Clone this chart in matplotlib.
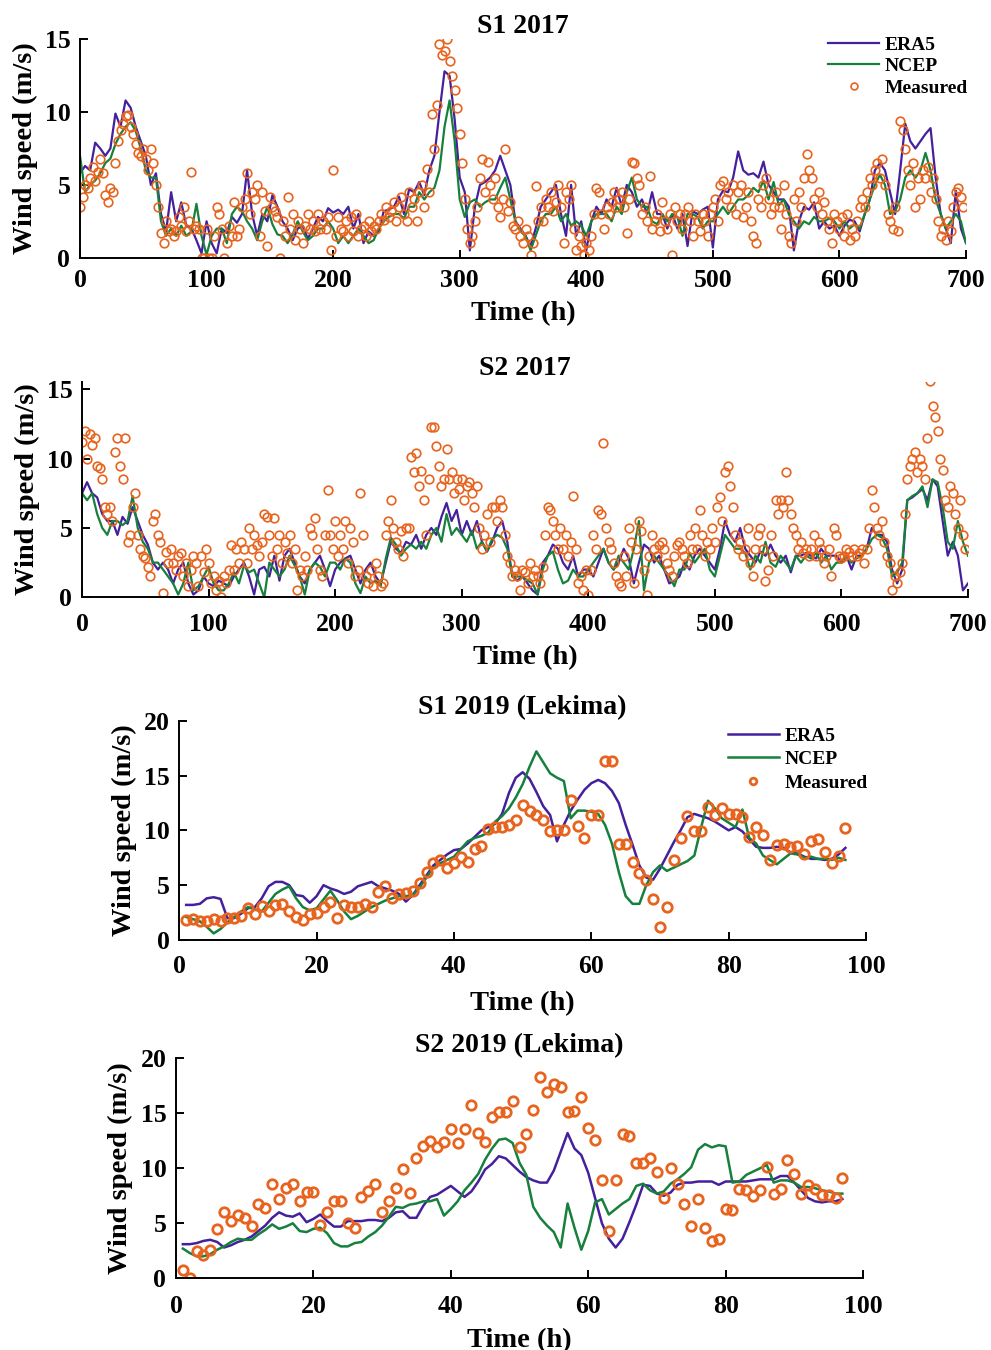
import numpy as np
import matplotlib.pyplot as plt

# fonts: Times-like bold everywhere
plt.rcParams['font.family'] = ['Liberation Serif', 'DejaVu Serif']
plt.rcParams['font.weight'] = 'bold'
plt.rcParams['axes.labelweight'] = 'bold'
plt.rcParams['axes.titleweight'] = 'bold'

# ---------------- data ----------------
# S1 2017, reanalysis every 4 h (0..700), measured every 2 h (0..698)
s1_2017_era5 = [5.8, 6.3, 6.0, 7.9, 7.5, 7.0, 7.5, 9.9, 9.0, 10.8, 10.3, 9.0, 8.0,
                7.0, 5.0, 5.8, 3.0, 1.8, 4.5, 2.5, 3.8, 2.2, 2.0, 1.2, 0.3, 2.5,
                1.0, 0.3, 2.0, 1.7, 2.8, 2.4, 3.0, 6.0, 3.0, 1.5, 3.0, 2.5,
                4.3, 3.5, 2.5, 2.0, 1.2, 2.0, 2.2, 1.3, 2.0, 2.8, 2.5, 3.4, 3.1,
                3.3, 3.0, 3.5, 2.0, 3.0, 1.0, 1.8, 1.5, 1.8, 3.2, 3.3, 3.5,
                4.2, 3.0, 4.7, 4.5, 5.2, 4.3, 6.0, 7.0, 10.0, 12.8, 12.5, 9.5, 5.5,
                4.5, 0.5, 3.5, 5.0, 5.2, 5.5, 6.0, 7.0, 6.0, 5.0, 2.5, 2.0,
                1.5, 0.8, 2.0, 3.5, 4.0, 4.5, 5.0, 3.0, 1.5, 5.0, 1.5, 2.5, 0.5,
                2.5, 3.5, 3.0, 4.0, 3.5, 4.8, 3.5, 5.0, 4.5, 3.5, 4.0, 3.0,
                4.5, 3.0, 3.0, 2.0, 3.0, 2.0, 3.0, 0.8, 3.2, 3.0, 3.3, 3.5, 0.7,
                4.0, 4.6, 4.5, 5.5, 7.3, 6.0, 5.7, 5.8, 5.5, 6.6, 5.0, 4.5,
                4.0, 4.0, 3.5, 0.5, 2.5, 3.5, 3.3, 3.8, 2.0, 2.5, 2.0, 2.2, 1.5,
                2.2, 2.6, 2.5, 1.8, 3.0, 4.0, 6.0, 6.5, 6.0, 4.5, 3.0, 6.0,
                9.2, 8.0, 7.5, 8.0, 8.5, 8.9, 5.5, 3.0, 2.0, 1.0, 4.6, 2.0, 1.0]
s1_2017_ncep = [7.0, 4.5, 5.0, 5.3, 5.8, 6.5, 6.8, 7.8, 8.5, 9.0, 9.3, 8.7, 7.5,
                6.0, 5.5, 5.5, 2.5, 1.5, 2.0, 1.5, 2.2, 1.5, 1.8, 3.7, 1.5, 0.2,
                1.5, 2.0, 2.0, 1.0, 3.0, 3.5, 3.2, 2.5, 2.0, 1.2, 2.5, 3.5,
                2.3, 1.6, 1.5, 1.0, 1.6, 2.5, 1.8, 1.2, 1.5, 2.0, 2.0, 2.5, 2.0,
                1.0, 1.5, 1.0, 1.5, 2.0, 1.5, 1.0, 1.2, 2.0, 2.5, 2.8, 3.0,
                3.0, 2.7, 3.5, 3.5, 4.5, 4.0, 4.5, 4.8, 6.0, 9.0, 10.8, 8.0, 4.0,
                2.8, 3.8, 4.0, 3.5, 3.8, 4.0, 4.0, 4.8, 5.5, 4.0, 2.5, 1.8,
                1.5, 0.5, 1.5, 2.5, 3.0, 3.0, 3.5, 2.5, 3.0, 2.2, 2.5, 2.2, 1.5,
                2.5, 3.0, 3.0, 3.0, 2.5, 3.5, 3.0, 4.5, 5.5, 4.0, 3.5, 3.5,
                2.5, 2.3, 3.0, 2.5, 3.0, 2.8, 1.5, 3.0, 3.0, 2.8, 2.0, 2.5, 2.5,
                3.0, 3.5, 3.0, 3.5, 4.0, 4.0, 4.3, 4.8, 4.5, 5.3, 4.0, 5.2,
                3.6, 4.0, 3.0, 2.5, 2.0, 2.5, 2.3, 2.8, 2.5, 2.5, 2.7, 2.5, 2.0,
                2.5, 2.0, 2.3, 2.0, 3.0, 4.0, 5.0, 5.7, 5.0, 3.0, 3.2, 4.0,
                5.5, 6.0, 5.5, 6.0, 7.2, 6.0, 4.0, 3.0, 2.0, 2.5, 3.0, 2.5, 1.0]
s1_2017_meas = [3.5, 4.2, 5.0, 4.8, 5.5, 6.2, 5.3, 5.9, 6.8, 5.8, 4.3, 3.8, 4.8,
                4.5, 6.5, 8.0, 8.8, 9.2, 9.7, 9.8, 9.0, 8.5, 7.8, 7.2, 7.0,
                7.5, 6.8, 6.0, 7.5, 6.5, 5.0, 3.5, 1.7, 1.0, 2.5, 1.8, 2.0, 1.5,
                1.8, 2.8, 2.2, 3.5, 1.8, 2.5, 5.9, 2.0, 2.2, 2.0, 0.0, 0.0,
                2.0, 0.0, 0.0, 1.5, 3.5, 3.0, 2.0, 0.0, 1.0, 2.2, 1.5, 3.8, 1.5,
                2.0, 3.5, 4.0, 5.8, 3.0, 4.5, 4.0, 5.0, 1.5, 4.5, 3.2, 0.8,
                4.2, 3.5, 3.2, 2.8, 0.0, 2.5, 1.5, 4.2, 2.0, 3.0, 1.2, 2.5, 2.0,
                1.0, 2.2, 3.0, 2.0, 2.5, 1.8, 3.0, 2.0, 2.5, 2.0, 2.8, 0.5,
                6.0, 1.5, 2.8, 2.0, 1.8, 2.5, 1.5, 2.8, 1.8, 3.0, 1.5, 2.0, 2.2,
                1.5, 2.5, 1.8, 2.2, 2.0, 2.5, 3.0, 2.6, 3.5, 2.8, 3.2, 3.8,
                2.5, 3.5, 4.2, 3.0, 2.5, 4.5, 3.5, 4.0, 2.5, 4.5, 5.0, 3.5, 6.1,
                4.5, 9.9, 7.5, 10.5, 14.7, 13.9, 14.2, 15.0, 13.5, 12.5, 11.5, 10.3,
                8.5, 6.5, 4.0, 2.0, 1.0, 1.5, 2.5, 3.5, 5.5, 6.8, 4.5, 6.6, 5.0,
                4.0, 5.5, 3.5, 2.8, 4.0, 7.5, 3.2, 3.8, 2.2, 2.0, 2.5, 1.5,
                1.0, 2.0, 1.5, 0.2, 1.0, 4.9, 2.5, 3.5, 2.5, 4.0, 3.5, 4.5, 3.2,
                3.8, 5.0, 3.5, 1.0, 4.5, 4.0, 5.0, 2.0, 0.5, 1.5, 0.8, 0.2,
                1.0, 0.5, 1.5, 3.0, 4.8, 4.5, 3.0, 2.0, 3.5, 3.0, 3.8, 4.5, 3.5,
                4.0, 4.5, 3.5, 1.7, 4.0, 6.6, 6.5, 5.5, 5.0, 3.0, 3.5, 2.5,
                5.6, 2.0, 2.5, 3.0, 1.8, 3.8, 2.5, 2.0, 3.0, 0.2, 3.5, 2.5, 3.0,
                2.0, 3.0, 3.5, 2.5, 1.5, 3.0, 2.5, 1.8, 3.0, 2.5, 1.5, 3.0,
                3.5, 4.0, 2.5, 5.0, 5.3, 4.0, 4.5, 3.5, 5.0, 3.0, 4.5, 5.0, 2.8,
                3.5, 4.5, 2.5, 1.5, 1.0, 4.0, 3.5, 5.0, 5.5, 4.0, 3.0, 3.5,
                4.5, 3.5, 2.0, 5.0, 3.0, 1.5, 1.0, 4.0, 2.5, 4.5, 3.5, 5.5, 7.1,
                6.0, 5.5, 4.0, 3.5, 4.5, 3.0, 3.8, 2.5, 2.0, 1.0, 3.0, 2.5,
                2.0, 2.8, 1.5, 3.0, 1.2, 2.0, 1.5, 2.5, 3.5, 4.0, 3.5, 4.5, 5.5,
                5.0, 6.0, 6.5, 5.5, 6.8, 5.0, 3.0, 2.5, 2.0, 3.5, 1.8, 9.4,
                8.8, 7.5, 6.0, 5.0, 6.5, 3.5, 5.5, 4.0, 6.0, 5.5, 6.2, 4.5, 5.5,
                4.0, 2.5, 1.5, 2.0, 1.2, 2.5, 1.8, 3.5, 4.5, 4.8, 4.2, 3.5]

# S2 2017
s2_2017_era5 = [7.5, 8.3, 7.5, 7.2, 6.0, 5.5, 5.5, 4.5, 5.8, 5.3, 6.5, 5.5, 4.5,
                3.8, 2.5, 2.0, 2.5, 2.0, 1.0, 2.0, 2.5, 1.0, 0.2, 0.5, 1.5, 1.0,
                0.8, 1.2, 1.0, 0.8, 1.5, 2.0, 2.5, 1.5, 0.2, 2.0, 2.2, 1.5,
                3.0, 1.2, 3.0, 3.5, 2.5, 1.5, 1.0, 2.0, 2.5, 3.0, 2.0, 0.8, 2.0,
                2.5, 2.8, 3.0, 2.0, 1.0, 2.0, 2.5, 1.5, 1.0, 2.5, 4.0, 3.5,
                3.2, 4.0, 3.8, 4.5, 3.5, 4.5, 5.0, 4.5, 5.8, 6.8, 5.5, 6.3, 4.5,
                5.5, 4.5, 5.5, 4.0, 3.3, 4.0, 5.0, 5.5, 4.0, 1.5, 1.2, 1.5,
                1.0, 0.5, 0.2, 2.5, 3.0, 3.8, 3.5, 2.5, 2.0, 3.0, 1.5, 2.0, 2.0,
                1.5, 2.5, 3.5, 2.5, 2.0, 2.5, 3.5, 2.8, 1.0, 2.5, 3.8, 3.5,
                2.5, 3.0, 2.0, 1.0, 1.2, 1.5, 2.5, 2.0, 3.0, 3.5, 3.0, 2.5, 2.0,
                3.5, 5.5, 4.5, 4.0, 5.0, 3.5, 3.0, 2.5, 3.3, 3.0, 3.8, 3.0,
                2.5, 3.0, 1.8, 3.0, 3.0, 3.2, 3.0, 2.8, 3.5, 3.0, 3.0, 3.0, 2.5,
                3.0, 2.0, 3.0, 3.0, 3.5, 5.0, 4.5, 4.5, 4.0, 2.0, 1.0, 2.0,
                7.0, 7.2, 7.5, 7.8, 7.0, 8.5, 8.0, 5.5, 3.0, 4.0, 3.0, 0.5, 1.0]
s2_2017_ncep = [7.5, 7.0, 7.5, 6.0, 5.0, 4.5, 5.5, 5.5, 5.2, 5.5, 7.3, 5.0, 4.0,
                3.5, 2.5, 2.5, 2.0, 1.5, 1.0, 0.2, 1.0, 2.5, 0.5, 0.8, 1.5, 2.2,
                1.0, 0.5, 0.5, 1.0, 1.8, 1.0, 2.3, 1.8, 2.0, 1.0, 0.0, 2.5,
                2.0, 1.5, 2.0, 3.0, 2.3, 1.5, 0.2, 2.0, 2.5, 2.2, 1.5, 2.5, 2.5,
                2.0, 2.8, 2.5, 1.0, 0.3, 1.5, 1.0, 1.2, 0.8, 2.8, 4.3, 3.8,
                3.0, 3.5, 3.8, 3.5, 4.0, 3.5, 4.5, 5.0, 4.0, 6.0, 4.5, 5.0, 4.5,
                4.0, 4.8, 3.5, 4.0, 3.3, 4.2, 4.5, 4.3, 3.5, 1.5, 1.5, 1.5,
                1.2, 1.0, 0.2, 2.0, 3.0, 3.3, 2.0, 1.0, 1.2, 2.0, 1.5, 1.5, 2.0,
                2.5, 3.0, 3.5, 2.5, 2.0, 3.0, 2.5, 2.0, 3.5, 5.5, 0.5, 2.5,
                3.0, 2.5, 2.0, 1.5, 0.8, 2.0, 2.0, 3.2, 2.5, 3.0, 3.5, 2.0, 1.5,
                3.0, 4.5, 4.0, 3.5, 3.5, 3.2, 2.0, 3.0, 2.5, 4.0, 2.5, 2.2,
                3.0, 2.5, 2.0, 3.0, 2.5, 3.0, 2.8, 3.2, 2.5, 3.0, 2.0, 2.5, 2.5,
                3.0, 2.5, 2.8, 3.0, 3.5, 4.2, 4.5, 4.3, 3.5, 1.5, 1.8, 2.5,
                7.0, 7.3, 7.5, 8.0, 6.5, 8.5, 8.3, 6.5, 4.0, 3.5, 5.5, 4.0, 3.0]
s2_2017_meas = [11.2, 12.0, 10.0, 11.8, 11.0, 11.5, 9.5, 9.3, 8.5, 6.5, 6.0, 6.5, 5.5,
                10.5, 11.5, 9.5, 8.5, 11.5, 4.0, 4.5, 6.5, 7.5, 4.5, 3.5, 3.0,
                2.8, 2.2, 1.5, 5.5, 6.0, 4.5, 4.0, 0.3, 3.3, 2.5, 3.5, 2.5, 2.0,
                3.0, 3.2, 1.5, 2.5, 0.8, 2.0, 3.0, 2.5, 0.8, 3.0, 1.8, 3.5,
                2.5, 1.0, 1.5, 0.5, 1.2, 0.0, 1.5, 1.0, 2.0, 3.8, 2.0, 3.5, 2.5,
                4.0, 3.5, 2.5, 5.0, 3.5, 4.5, 3.8, 3.0, 4.0, 6.0, 5.8, 4.5,
                3.0, 5.7, 3.5, 4.5, 2.5, 4.0, 3.2, 4.5, 2.5, 3.5, 0.5, 2.0, 1.5,
                3.0, 2.0, 5.0, 4.5, 5.7, 3.5, 2.0, 1.5, 4.5, 7.7, 4.5, 3.5,
                5.5, 3.0, 4.5, 3.5, 5.5, 2.5, 5.0, 4.0, 1.5, 2.0, 7.5, 4.5, 1.5,
                1.0, 2.0, 0.8, 2.5, 1.5, 0.8, 1.0, 4.5, 5.5, 7.0, 5.0, 4.0,
                3.5, 4.8, 3.0, 5.0, 5.0, 10.1, 9.0, 10.4, 8.0, 9.1, 7.0, 4.5, 8.5,
                12.3, 12.3, 10.9, 9.5, 8.0, 8.5, 10.7, 8.5, 9.0, 7.5, 8.5, 7.8,
                8.5, 7.0, 8.0, 8.3, 7.5, 6.5, 8.0, 5.0, 3.5, 4.5, 6.0, 4.0, 6.5,
                6.5, 5.5, 7.0, 6.5, 4.5, 3.0, 2.5, 1.5, 2.0, 1.5, 0.5, 2.0,
                1.8, 1.0, 2.5, 1.5, 2.0, 1.5, 1.0, 2.2, 4.5, 6.5, 6.3, 5.5, 4.5,
                3.5, 5.0, 3.5, 4.5, 3.0, 4.0, 7.3, 3.5, 1.0, 1.5, 0.5, 2.0,
                0.2, 2.0, 4.5, 3.5, 6.3, 6.0, 11.1, 5.0, 4.0, 3.5, 2.5, 1.5, 1.0,
                0.8, 3.0, 1.5, 5.0, 4.0, 1.0, 3.5, 5.5, 4.8, 2.0, 0.2, 3.0,
                4.5, 3.5, 3.0, 3.8, 4.0, 3.5, 2.5, 2.0, 1.5, 3.0, 3.8, 4.0, 3.5,
                3.0, 2.5, 4.5, 3.5, 5.0, 3.5, 6.3, 4.5, 3.0, 4.0, 3.5, 5.0,
                4.0, 6.5, 7.2, 5.5, 9.0, 9.5, 8.0, 6.5, 4.5, 3.5, 4.0, 3.0, 3.5,
                5.0, 2.5, 1.5, 3.5, 4.5, 5.0, 3.5, 1.2, 2.0, 4.5, 3.0, 7.0,
                6.0, 7.0, 6.5, 9.0, 7.0, 6.0, 5.0, 4.5, 3.5, 4.0, 3.2, 3.5, 3.0,
                3.5, 4.5, 3.0, 4.0, 3.5, 2.5, 3.0, 3.5, 1.5, 5.0, 4.5, 3.0,
                2.8, 3.0, 3.5, 3.3, 3.0, 3.5, 3.0, 3.2, 3.5, 2.5, 3.5, 5.0, 7.7,
                6.5, 5.0, 4.5, 5.5, 4.0, 3.0, 2.5, 0.5, 1.5, 1.0, 1.8, 2.5,
                6.0, 8.5, 9.5, 10.0, 10.5, 9.0, 10.0, 9.5, 8.5, 11.5, 15.6, 13.8, 13.0,
                12.0, 10.0, 9.2, 7.0, 6.5, 8.0, 7.5, 6.0, 5.0, 7.0, 4.5, 3.5]

# S1 2019 (Lekima), hourly from t = 1 h
s1_2019_era5 = [3.2, 3.2, 3.3, 3.8, 3.9, 3.75, 2.0, 2.0, 2.4, 2.9,
                3.0, 3.8, 4.9, 5.3, 5.3, 5.0, 4.1, 4.0, 3.4, 4.0,
                5.0, 4.7, 4.5, 4.2, 4.4, 4.9, 5.1, 5.3, 4.9, 4.7,
                4.5, 4.2, 3.5, 4.1, 5.0, 5.9, 6.8, 7.3, 7.8, 8.2,
                8.3, 8.8, 9.4, 10.0, 10.3, 10.6, 11.5, 13.4, 14.8, 15.3,
                14.7, 13.5, 12.2, 11.4, 9.0, 10.5, 11.8, 12.8, 13.7, 14.3,
                14.6, 14.3, 13.6, 12.5, 10.5, 8.7, 6.8, 5.7, 5.5, 6.5,
                7.7, 8.9, 10.0, 11.2, 11.5, 11.3, 11.1, 10.8, 10.4, 10.0,
                10.3, 9.9, 9.2, 8.5, 8.4, 8.4, 8.5, 8.4, 8.0, 7.9,
                7.6, 7.4, 7.4, 7.3, 7.4, 7.8, 8.4]
s1_2019_ncep = [2.1, 1.9, 1.7, 1.2, 0.6, 1.0, 1.6, 2.1, 2.6, 3.0,
                2.8, 2.6, 3.4, 4.2, 4.6, 4.9, 3.8, 3.0, 2.7, 2.9,
                3.7, 4.5, 3.6, 2.6, 1.9, 2.2, 2.6, 3.0, 3.3, 3.6,
                3.8, 4.0, 4.0, 4.1, 4.8, 5.7, 6.6, 7.0, 7.3, 7.6,
                8.3, 9.0, 9.3, 9.5, 9.8, 10.8, 11.3, 12.0, 13.0, 14.2,
                15.8, 17.2, 16.2, 15.2, 14.8, 14.5, 11.1, 11.8, 11.8, 11.7,
                11.5, 10.5, 8.8, 6.2, 4.0, 3.3, 3.3, 5.0, 6.2, 6.8,
                6.3, 6.6, 6.9, 7.2, 7.7, 10.3, 12.7, 12.0, 11.1, 10.7,
                10.3, 11.9, 9.3, 8.8, 7.7, 7.3, 6.9, 7.4, 7.9, 7.8,
                7.5, 7.6, 7.4, 7.4, 7.3, 7.5, 7.3]
s1_2019_meas = [1.8, 1.9, 1.7, 1.7, 1.9, 1.7, 2.0, 2.0, 2.2, 2.9,
                2.4, 3.1, 2.6, 3.2, 3.3, 2.6, 2.1, 1.8, 2.4, 2.5,
                3.0, 3.5, 2.0, 3.2, 3.0, 3.0, 3.3, 3.0, 4.4, 4.9,
                3.8, 4.2, 4.3, 4.5, 5.2, 6.2, 7.0, 7.3, 6.6, 7.05,
                7.6, 7.15, 8.3, 8.6, 10.1, 10.3, 10.3, 10.5, 10.9, 12.3,
                11.8, 11.4, 10.9, 9.9, 10.0, 10.0, 12.8, 10.4, 9.3, 11.4,
                11.4, 16.3, 16.3, 8.75, 8.75, 7.1, 6.1, 5.5, 3.7, 1.2,
                3.0, 7.3, 9.3, 11.3, 9.9, 9.9, 12.1, 11.4, 12.0, 11.5,
                11.5, 11.2, 9.4, 10.3, 9.6, 7.3, 8.7, 8.8, 8.5, 8.6,
                7.8, 9.0, 9.2, 8.05, 7.05, 7.7, 10.2]

# S2 2019 (Lekima)
s2_2019_era5 = [3.1, 3.1, 3.2, 3.4, 3.5, 3.3, 2.8, 3.0, 3.3, 3.5,
                3.8, 4.3, 4.8, 5.5, 6.0, 5.7, 5.6, 5.9, 5.1, 5.4,
                5.8, 5.2, 4.7, 4.7, 5.2, 5.2, 5.2, 5.3, 5.3, 5.2,
                5.5, 6.0, 6.1, 5.5, 5.5, 6.6, 7.4, 7.6, 8.0, 8.4,
                7.9, 7.4, 7.9, 8.8, 9.9, 10.4, 11.1, 10.9, 10.3, 9.7,
                9.2, 8.9, 8.7, 8.7, 9.8, 11.5, 13.2, 11.8, 11.2, 9.6,
                7.3, 5.0, 3.6, 2.8, 3.6, 5.1, 6.7, 8.5, 8.4, 7.7,
                7.5, 7.8, 8.5, 8.7, 8.7, 8.8, 8.8, 8.8, 8.5, 8.8,
                8.8, 8.8, 8.8, 8.9, 9.0, 9.0, 9.0, 9.3, 9.3, 8.7,
                8.0, 7.3, 7.0, 6.9, 7.0, 7.0, 7.2]
s2_2019_ncep = [2.7, 2.3, 2.0, 2.0, 2.2, 2.6, 2.9, 3.3, 3.6, 3.5,
                3.5, 4.0, 4.4, 4.9, 4.5, 4.7, 5.0, 4.3, 4.2, 4.5,
                4.6, 4.1, 3.2, 2.9, 2.9, 3.2, 3.3, 3.8, 4.2, 4.8,
                5.6, 6.5, 6.4, 6.7, 6.8, 7.0, 7.0, 7.2, 5.7, 6.3,
                7.0, 8.0, 8.7, 9.5, 10.8, 11.8, 12.6, 12.7, 12.3, 10.5,
                9.4, 6.5, 5.5, 4.8, 4.2, 2.8, 6.8, 4.6, 2.6, 4.3,
                6.9, 7.2, 5.8, 6.3, 6.8, 7.2, 8.4, 8.6, 8.0, 7.7,
                7.9, 8.6, 9.0, 9.5, 10.1, 11.7, 12.2, 11.9, 12.1, 12.0,
                8.7, 8.8, 9.4, 9.7, 10.0, 10.3, 8.7, 8.9, 8.9, 8.7,
                8.3, 8.3, 8.2, 8.0, 7.9, 7.7, 7.7]
s2_2019_meas = [0.8, 0.0, 2.5, 2.1, 2.6, 4.5, 6.0, 5.2, 5.8, 5.45,
                4.75, 6.8, 6.4, 8.6, 7.2, 8.2, 8.6, 7.05, 7.85, 7.85,
                4.85, 6.0, 7.0, 7.0, 5.05, 4.55, 7.35, 7.9, 8.6, 6.0,
                7.0, 8.2, 9.9, 7.8, 10.9, 12.0, 12.5, 11.9, 12.4, 13.6,
                12.3, 13.6, 15.8, 13.2, 12.4, 14.7, 15.1, 15.1, 16.1, 11.9,
                13.1, 15.3, 18.3, 16.9, 17.7, 17.4, 15.15, 15.25, 16.5, 13.7,
                12.6, 8.9, 4.3, 8.9, 13.1, 12.9, 10.45, 10.45, 10.9, 9.7,
                7.3, 10.0, 8.6, 6.8, 4.75, 7.2, 4.55, 3.4, 3.55, 6.3,
                6.2, 8.1, 8.0, 7.5, 8.0, 10.15, 7.65, 8.1, 10.75, 9.5,
                7.65, 8.5, 8.1, 7.6, 7.6, 7.3, 9.15]

titles = ['S1 2017', 'S2 2017', 'S1 2019 (Lekima)', 'S2 2019 (Lekima)']
names = ['ERA5', 'NCEP', 'Measured']

# colours
c_era5 = '#45209c'
c_ncep = '#16803c'
c_meas = '#e8641e'

W, H = 991, 1350
fig = plt.figure(figsize=(W / 100, H / 100), dpi=100)


def add_panel(l, t, r, b):
    # pixel box -> figure fraction
    return fig.add_axes([l / W, 1 - b / H, (r - l) / W, (b - t) / H])


def style(ax, title, xmax, xstep, ytop, ystep, xpad, xlabpad):
    ax.set_xlim(0, xmax)
    ax.set_ylim(0, ytop)
    ax.set_xticks(np.arange(0, xmax + 1, xstep))
    ax.set_yticks(np.arange(0, ytop + 0.01, ystep))
    for s in ['top', 'right']:
        ax.spines[s].set_visible(False)
    for s in ['left', 'bottom']:
        ax.spines[s].set_linewidth(1.4)
    ax.tick_params(direction='in', length=6, width=1.4, labelsize=18.5)
    ax.tick_params(axis='x', pad=xpad)
    ax.tick_params(axis='y', pad=7)
    ax.set_title(title, fontsize=20, pad=4.5)
    ax.set_xlabel('Time (h)', fontsize=20.5, labelpad=xlabpad)
    ax.set_ylabel('Wind speed (m/s)', fontsize=20.5, labelpad=5)


# ---- S1 2017 ----
ax1 = add_panel(80, 39.3, 966, 257.7)
h4 = np.arange(len(s1_2017_era5)) * 4
h2 = np.arange(len(s1_2017_meas)) * 2
ax1.plot(h4, s1_2017_era5, color=c_era5, lw=1.6, label=names[0])
ax1.plot(h4, s1_2017_ncep, color=c_ncep, lw=1.6, label=names[1])
ax1.plot(h2, s1_2017_meas, 'o', mfc='none', mec=c_meas, ms=6.2, mew=1.2,
         label=names[2])
style(ax1, titles[0], 700, 100, 15, 5, 8, 7)
ax1.legend(loc='upper right', bbox_to_anchor=(1.022, 1.095), frameon=False,
           fontsize=14, handlelength=2.6, handletextpad=0.3, labelspacing=0.2,
           markerscale=0.8)

# ---- S2 2017 ----
ax2 = add_panel(82, 381.6, 968, 597.3)
h4 = np.arange(len(s2_2017_era5)) * 4
h2 = np.arange(len(s2_2017_meas)) * 2
ax2.plot(h4, s2_2017_era5, color=c_era5, lw=1.6)
ax2.plot(h4, s2_2017_ncep, color=c_ncep, lw=1.6)
ax2.plot(h2, s2_2017_meas, 'o', mfc='none', mec=c_meas, ms=6.2, mew=1.2)
style(ax2, titles[1], 700, 100, 15.55, 5, 11, 7)

# ---- S1 2019 (Lekima) ----
ax3 = add_panel(179.3, 720.7, 866, 940)
t = np.arange(1, len(s1_2019_era5) + 1)
ax3.plot(t, s1_2019_era5, color=c_era5, lw=1.8, label=names[0])
ax3.plot(t, s1_2019_ncep, color=c_ncep, lw=1.8, label=names[1])
ax3.plot(t, s1_2019_meas, 'o', mfc='none', mec=c_meas, ms=6.8, mew=2,
         label=names[2])
style(ax3, titles[2], 100, 20, 20, 5, 11, 9)
ax3.legend(loc='upper right', bbox_to_anchor=(1.028, 1.05), frameon=False,
           fontsize=14, handlelength=2.6, handletextpad=0.3, labelspacing=0.3,
           markerscale=0.7)

# ---- S2 2019 (Lekima) ----
ax4 = add_panel(176, 1058.3, 863, 1278.3)
t = np.arange(1, len(s2_2019_era5) + 1)
ax4.plot(t, s2_2019_era5, color=c_era5, lw=1.8)
ax4.plot(t, s2_2019_ncep, color=c_ncep, lw=1.8)
ax4.plot(t, s2_2019_meas, 'o', mfc='none', mec=c_meas, ms=6.8, mew=2)
style(ax4, titles[3], 100, 20, 20, 5, 12, 7)

plt.savefig('out.png', dpi=100)
